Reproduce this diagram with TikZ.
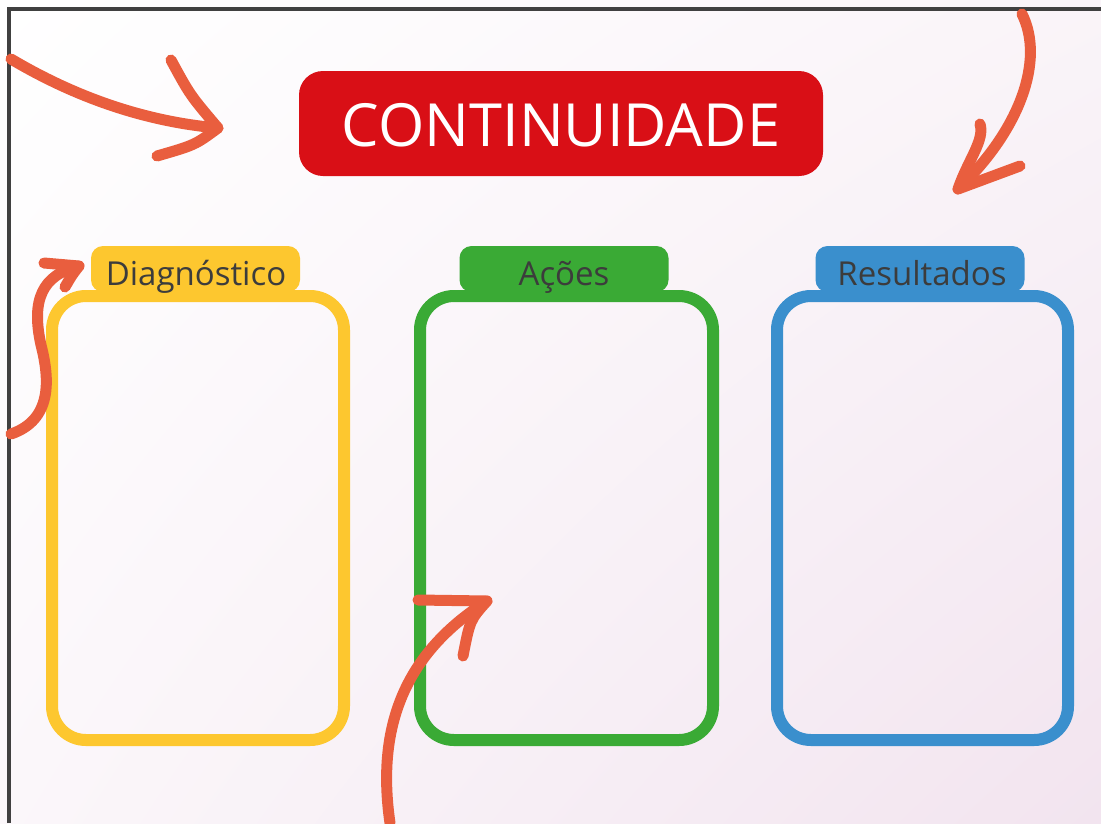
\documentclass[tikz,border=0pt]{standalone}
\usepackage{fontspec}
\setmainfont{Open Sans}
\usetikzlibrary{shadings}
\definecolor{arrowred}{HTML}{E95E3E}
\definecolor{titlered}{HTML}{D90F16}
\definecolor{diagyellow}{HTML}{FDC72F}
\definecolor{acoesgreen}{HTML}{3AAA35}
\definecolor{resblue}{HTML}{3A8FCD}
\definecolor{labelgray}{HTML}{3C3C3C}
\definecolor{framegray}{HTML}{404040}
\definecolor{bgpink}{HTML}{F2E4EF}
\begin{document}
\begin{tikzpicture}[x=1pt,y=-1pt,
    scribble/.style={arrowred,line width=11pt,line cap=round,line join=round},
    jar/.style={line width=12pt,rounded corners=34pt},
    tab/.style={rounded corners=12pt,minimum width=209pt,minimum height=46pt,inner sep=0pt},
    tabtext/.style={text=labelgray,font=\fontsize{33}{33}\selectfont,anchor=base}]
  \useasboundingbox (0,0) rectangle (1101,823);
  % background and frame
  \shade[upper left=white,upper right=white!60!bgpink,lower left=white!70!bgpink,lower right=bgpink]
    (0,0) rectangle (1101,823);
  \draw[framegray,line width=3.5pt] (9,823) -- (9,9) -- (1101,9);
  % title
  \node[fill=titlered,rounded corners=24pt,minimum width=524pt,minimum height=105pt,inner sep=0pt]
    (title) at (561,123.5) {};
  \node[text=white,font=\fontsize{59.5}{60}\selectfont,anchor=base] (titletext) at (561,146) {CONTINUIDADE};
  % Diagnostico
  \node[tab,fill=diagyellow] (diagtab) at (195.5,269) {};
  \draw[jar,diagyellow] (52,296) rectangle (344,740);
  \node[tabtext] (diaglabel) at (196,285) {Diagnóstico};
  % Acoes
  \node[tab,fill=acoesgreen] (acoestab) at (564,269) {};
  \draw[jar,acoesgreen] (420,296) rectangle (713,740);
  \node[tabtext] (acoeslabel) at (564,285) {Ações};
  % Resultados
  \node[tab,fill=resblue] (restab) at (920,269) {};
  \draw[jar,resblue] (777,296) rectangle (1068,740);
  \node[tabtext] (reslabel) at (922,285) {Resultados};
  % hand drawn arrows
  \draw[scribble] (11,59) .. controls (80,100) and (150,122) .. (218,128);
  \draw[scribble] (171,60) .. controls (190,95) .. (218,128) .. controls (195,145) .. (157,156);
  \draw[scribble] (1022,14) .. controls (1045,60) and (1020,130) .. (958,189);
  \draw[scribble] (980,124) .. controls (985,140) and (968,160) .. (958,189) -- (1020,166);
  \draw[scribble] (11,434) .. controls (52,420) and (50,380) .. (41,345)
    .. controls (31,300) and (42,275) .. (79,266);
  \draw[scribble] (44,263) -- (79,266) .. controls (72,275) .. (65,287);
  \draw[scribble] (390,823) .. controls (375,720) and (410,650) .. (487,601);
  \draw[scribble] (418,600) -- (487,601) .. controls (470,620) .. (463,656);
\end{tikzpicture}
\end{document}
